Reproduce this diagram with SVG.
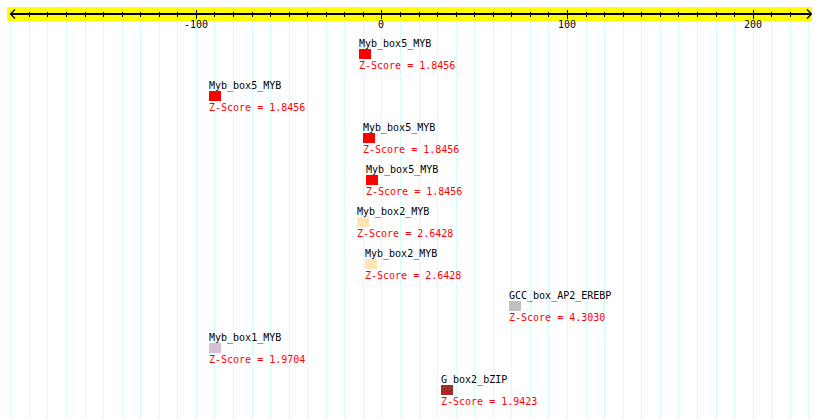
<svg xmlns="http://www.w3.org/2000/svg" width="820" height="419" viewBox="0 0 820 419">
<style>
.grid{stroke:#d4ffff;stroke-width:1;fill:none}
.ax{stroke:#000;fill:none}
.lbl{font-family:"DejaVu Sans Mono","Liberation Mono",monospace;font-size:10px;fill:#000}
.z{font-family:"DejaVu Sans Mono","Liberation Mono",monospace;font-size:10px;fill:#ff0000}
.num{font-family:"DejaVu Sans Mono","Liberation Mono",monospace;font-size:10px;fill:#000;text-anchor:middle}
</style>
<rect width="820" height="419" fill="#fff"/>
<g id="grid">
<path class="grid" d="M10.5 21V419M29.5 21V419M47.5 21V419M66.5 21V419M85.5 21V419M103.5 21V419M122.5 21V419M140.5 21V419M159.5 21V419M177.5 21V419M196.5 21V419M214.5 21V419M233.5 21V419M252.5 21V419M270.5 21V419M289.5 21V419M307.5 21V419M326.5 21V419M344.5 21V419M363.5 21V419M381.5 21V419M400.5 21V419M419.5 21V419M437.5 21V419M456.5 21V419M474.5 21V419M493.5 21V419M511.5 21V419M530.5 21V419M548.5 21V419M567.5 21V419M586.5 21V419M604.5 21V419M623.5 21V419M641.5 21V419M660.5 21V419M678.5 21V419M697.5 21V419M716.5 21V419M734.5 21V419M753.5 21V419M771.5 21V419M790.5 21V419M808.5 21V419"/>
</g>
<g id="axis">
<rect x="7" y="7" width="805" height="14" fill="#ffff00"/>
<path class="ax" stroke-width="2" d="M10 14H811"/>
<path class="ax" stroke-width="1.3" d="M15 9.5L10.5 14L15 18.5M807 9.5L811.5 14L807 18.5"/>
<path class="ax" stroke-width="1" d="M29.5 12V17M47.5 12V17M66.5 12V17M85.5 12V17M103.5 12V17M122.5 12V17M140.5 12V17M159.5 12V17M177.5 12V17M214.5 12V17M233.5 12V17M252.5 12V17M270.5 12V17M289.5 12V17M307.5 12V17M326.5 12V17M344.5 12V17M363.5 12V17M400.5 12V17M419.5 12V17M437.5 12V17M456.5 12V17M474.5 12V17M493.5 12V17M511.5 12V17M530.5 12V17M548.5 12V17M586.5 12V17M604.5 12V17M623.5 12V17M641.5 12V17M660.5 12V17M678.5 12V17M697.5 12V17M716.5 12V17M734.5 12V17M771.5 12V17M790.5 12V17"/>
<path class="ax" stroke-width="1" d="M196.5 10V19M381.5 10V19M567.5 10V19M753.5 10V19"/>
<text class="num" x="196" y="28">-100</text>
<text class="num" x="381" y="28">0</text>
<text class="num" x="567" y="28">100</text>
<text class="num" x="753" y="28">200</text>
</g>
<g id="node1" transform="translate(359,0)">
<text class="lbl" x="0" y="47">Myb_box5_MYB</text>
<rect x="0" y="49" width="12" height="10" fill="#ff0000"/>
<text class="z" x="0" y="69">Z-Score = 1.8456</text>
</g>
<g id="node2" transform="translate(209,42)">
<text class="lbl" x="0" y="47">Myb_box5_MYB</text>
<rect x="0" y="49" width="12" height="10" fill="#ff0000"/>
<text class="z" x="0" y="69">Z-Score = 1.8456</text>
</g>
<g id="node3" transform="translate(363,84)">
<text class="lbl" x="0" y="47">Myb_box5_MYB</text>
<rect x="0" y="49" width="12" height="10" fill="#ff0000"/>
<text class="z" x="0" y="69">Z-Score = 1.8456</text>
</g>
<g id="node4" transform="translate(366,126)">
<text class="lbl" x="0" y="47">Myb_box5_MYB</text>
<rect x="0" y="49" width="12" height="10" fill="#ff0000"/>
<text class="z" x="0" y="69">Z-Score = 1.8456</text>
</g>
<g id="node5" transform="translate(357,168)">
<text class="lbl" x="0" y="47">Myb_box2_MYB</text>
<rect x="0" y="49" width="12" height="10" fill="#ffe4b5"/>
<text class="z" x="0" y="69">Z-Score = 2.6428</text>
</g>
<g id="node6" transform="translate(365,210)">
<text class="lbl" x="0" y="47">Myb_box2_MYB</text>
<rect x="0" y="49" width="12" height="10" fill="#ffe4b5"/>
<text class="z" x="0" y="69">Z-Score = 2.6428</text>
</g>
<g id="node7" transform="translate(509,252)">
<text class="lbl" x="0" y="47">GCC_box_AP2_EREBP</text>
<rect x="0" y="49" width="12" height="10" fill="#c0c0c0"/>
<text class="z" x="0" y="69">Z-Score = 4.3030</text>
</g>
<g id="node8" transform="translate(209,294)">
<text class="lbl" x="0" y="47">Myb_box1_MYB</text>
<rect x="0" y="49" width="12" height="10" fill="#d8bfd8"/>
<text class="z" x="0" y="69">Z-Score = 1.9704</text>
</g>
<g id="node9" transform="translate(441,336)">
<text class="lbl" x="0" y="47">G_box2_bZIP</text>
<rect x="0" y="49" width="12" height="10" fill="#a52a2a"/>
<text class="z" x="0" y="69">Z-Score = 1.9423</text>
</g>
</svg>
